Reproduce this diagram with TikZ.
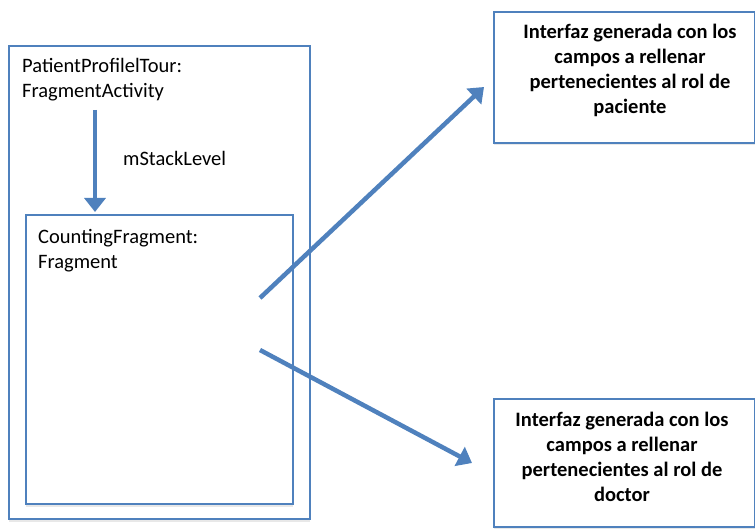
\documentclass[tikz,border=0pt]{standalone}
\usepackage{fontspec}
\setmainfont{Carlito}
\usetikzlibrary{arrows.meta, shadows}

\definecolor{officeblue}{HTML}{4F81BD}

\begin{document}
\begin{tikzpicture}[x=1pt, y=-1pt]

% GLOBAL SETTINGS
\newcommand{\lblsize}{\fontsize{20.5}{25}\selectfont}
\tikzset{
  frame/.style={draw=officeblue, line width=1.2pt, fill=white, inner sep=0pt,
    drop shadow={shadow xshift=0pt, shadow yshift=-2.5pt, opacity=0.18}},
  lbl/.style={font=\lblsize, align=left, inner sep=0pt},
  boldlbl/.style={font=\lblsize\bfseries, align=center, inner sep=0pt},
  flow/.style={draw=officeblue, line width=4.5pt,
    -{Triangle[length=14pt, width=21pt]}}
}

\useasboundingbox (0,0) rectangle (755,529);

% BOXES
\node[frame, minimum width=301pt, minimum height=473pt] (activity) at (159.5,282.5) {};
\node[frame, minimum width=267pt, minimum height=289pt] (fragment) at (159.5,359.5) {};
\node[frame, minimum width=261pt, minimum height=131pt] (patient) at (624.5,77.5) {};
\node[frame, minimum width=261pt, minimum height=128pt] (doctor) at (624.5,463) {};

% LABELS
\node[lbl, anchor=west] (actlbl) at (22,80) {PatientProfilelTour:\\FragmentActivity};
\node[lbl, anchor=west] (fraglbl) at (38,251) {CountingFragment:\\Fragment};
\node[lbl, anchor=west] (stack) at (123,158) {mStackLevel};
\node[boldlbl] (patlbl) at (630,70) {Interfaz generada con los\\campos a rellenar\\pertenecientes al rol de\\paciente};
\node[boldlbl] (doclbl) at (622,457) {Interfaz generada con los\\campos a rellenar\\pertenecientes al rol de\\doctor};

% helper coordinates
\coordinate (downS) at (95,110);
\coordinate (downE) at (95,212);
\coordinate (upS) at (260,298);
\coordinate (upE) at (484,87);
\coordinate (loS) at (260,350);
\coordinate (loE) at (472,463);

% EDGES
\draw[flow] (downS) -- (downE);
\draw[flow] (upS) -- (upE);
\draw[flow] (loS) -- (loE);

\end{tikzpicture}
\end{document}
